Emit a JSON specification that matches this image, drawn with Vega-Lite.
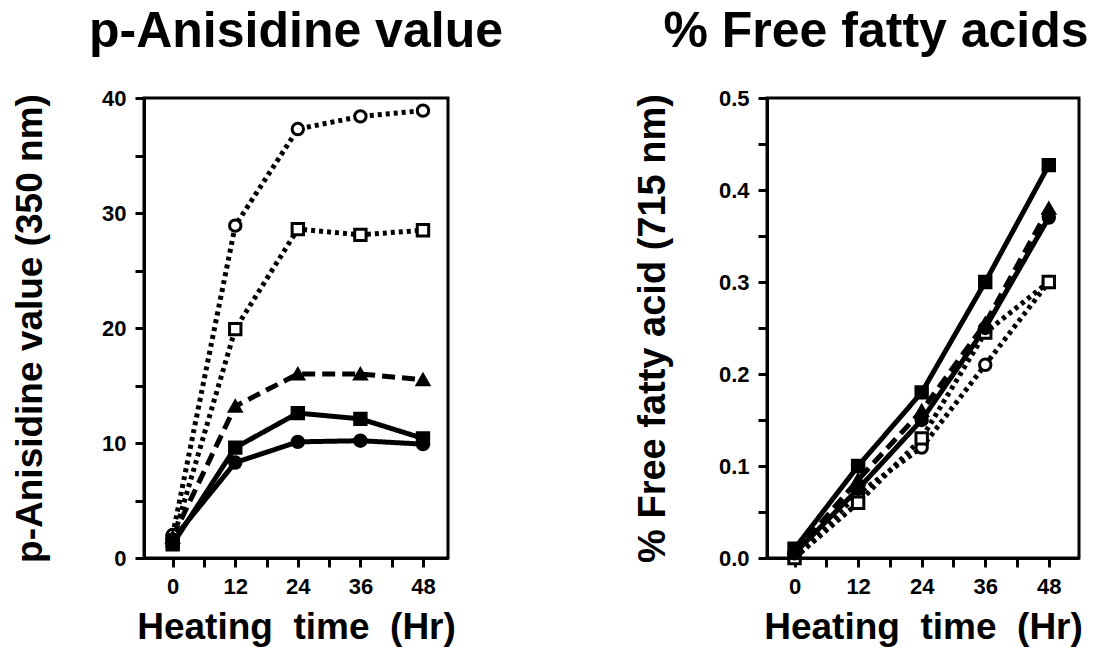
{
  "$schema": "https://vega.github.io/schema/vega-lite/v6.json",
  "background": "white",
  "padding": {"left": 10, "top": 5, "right": 5, "bottom": 5},
  "bounds": "flush",
  "spacing": 319,
  "config": {
    "font": "Liberation Sans",
    "view": {"stroke": "black", "strokeWidth": 3},
    "axis": {"domainColor": "black", "domainWidth": 3, "tickColor": "black", "tickWidth": 3, "tickSize": 9, "labelFont": "Liberation Sans", "labelFontWeight": "bold", "labelFontSize": 22, "labelColor": "black", "titleFont": "Liberation Sans", "titleFontWeight": "bold", "titleColor": "black", "grid": false, "labelPadding": 9},
    "title": {"fontSize": 50, "fontWeight": "bold", "color": "black", "font": "Liberation Sans", "offset": 30}
  },
  "datasets": {
    "pav": [
      {"s": "A", "hr": 0, "v": 2.0}, {"s": "A", "hr": 12, "v": 28.9}, {"s": "A", "hr": 24, "v": 37.3}, {"s": "A", "hr": 36, "v": 38.4}, {"s": "A", "hr": 48, "v": 38.9},
      {"s": "B", "hr": 0, "v": 1.5}, {"s": "B", "hr": 12, "v": 19.9}, {"s": "B", "hr": 24, "v": 28.6}, {"s": "B", "hr": 36, "v": 28.1}, {"s": "B", "hr": 48, "v": 28.5},
      {"s": "C", "hr": 0, "v": 1.8}, {"s": "C", "hr": 12, "v": 13.2}, {"s": "C", "hr": 24, "v": 16.0}, {"s": "C", "hr": 36, "v": 16.0}, {"s": "C", "hr": 48, "v": 15.5},
      {"s": "D", "hr": 0, "v": 1.2}, {"s": "D", "hr": 12, "v": 9.6}, {"s": "D", "hr": 24, "v": 12.6}, {"s": "D", "hr": 36, "v": 12.1}, {"s": "D", "hr": 48, "v": 10.4},
      {"s": "E", "hr": 0, "v": 1.6}, {"s": "E", "hr": 12, "v": 8.3}, {"s": "E", "hr": 24, "v": 10.1}, {"s": "E", "hr": 36, "v": 10.2}, {"s": "E", "hr": 48, "v": 9.9}
    ],
    "ffa": [
      {"s": "A", "hr": 0, "v": 0.0}, {"s": "A", "hr": 12, "v": 0.07}, {"s": "A", "hr": 24, "v": 0.12}, {"s": "A", "hr": 36, "v": 0.21}, {"s": "A", "hr": 48, "v": 0.30},
      {"s": "B", "hr": 0, "v": 0.0}, {"s": "B", "hr": 12, "v": 0.06}, {"s": "B", "hr": 24, "v": 0.13}, {"s": "B", "hr": 36, "v": 0.245}, {"s": "B", "hr": 48, "v": 0.30},
      {"s": "C", "hr": 0, "v": 0.005}, {"s": "C", "hr": 12, "v": 0.085}, {"s": "C", "hr": 24, "v": 0.16}, {"s": "C", "hr": 36, "v": 0.255}, {"s": "C", "hr": 48, "v": 0.38},
      {"s": "D", "hr": 0, "v": 0.01}, {"s": "D", "hr": 12, "v": 0.10}, {"s": "D", "hr": 24, "v": 0.18}, {"s": "D", "hr": 36, "v": 0.30}, {"s": "D", "hr": 48, "v": 0.427},
      {"s": "E", "hr": 0, "v": 0.005}, {"s": "E", "hr": 12, "v": 0.075}, {"s": "E", "hr": 24, "v": 0.15}, {"s": "E", "hr": 36, "v": 0.25}, {"s": "E", "hr": 48, "v": 0.37}
    ]
  },
  "hconcat": [
    {
      "width": 304,
      "height": 460,
      "title": {"text": "p-Anisidine value"},
      "data": {"name": "pav"},
      "encoding": {
        "x": {"field": "hr", "type": "quantitative", "scale": {"domain": [-5.5, 52.8], "nice": false, "zero": false},
          "axis": {"values": [0, 6, 12, 18, 24, 30, 36, 42, 48], "labelExpr": "datum.value % 12 == 0 ? datum.label : ''", "title": "Heating\u00a0 time\u00a0 (Hr)", "titleFontSize": 37, "titlePadding": 12}},
        "y": {"field": "v", "type": "quantitative", "scale": {"domain": [0, 40], "nice": false},
          "axis": {"values": [0, 5, 10, 15, 20, 25, 30, 35, 40], "labelExpr": "datum.value % 10 == 0 ? datum.label : ''", "title": "p-Anisidine value (350 nm)", "titleFontSize": 37, "titlePadding": 52}}
      },
      "layer": [
        {
          "mark": {"type": "line", "color": "black", "strokeWidth": 5, "strokeCap": "butt"},
          "encoding": {
            "strokeDash": {"field": "s", "type": "nominal", "scale": {"domain": ["A", "B", "C", "D", "E"], "range": [[4, 4], [4, 4], [13, 7], [1, 0], [1, 0]]}, "legend": null}
          }
        },
        {
          "mark": {"type": "point", "filled": true, "stroke": "black", "strokeWidth": 3, "opacity": 1, "size": 130},
          "encoding": {
            "shape": {"field": "s", "type": "nominal", "scale": {"domain": ["A", "B", "C", "D", "E"], "range": ["circle", "square", "triangle-up", "square", "circle"]}, "legend": null},
            "fill": {"field": "s", "type": "nominal", "scale": {"domain": ["A", "B", "C", "D", "E"], "range": ["white", "white", "black", "black", "black"]}, "legend": null}
          }
        }
      ]
    },
    {
      "width": 312,
      "height": 460,
      "title": {"text": "% Free fatty acids", "dx": -47},
      "data": {"name": "ffa"},
      "encoding": {
        "x": {"field": "hr", "type": "quantitative", "scale": {"domain": [-5.2, 53.7], "nice": false, "zero": false},
          "axis": {"values": [0, 6, 12, 18, 24, 30, 36, 42, 48], "labelExpr": "datum.value % 12 == 0 ? datum.label : ''", "title": "Heating\u00a0 time\u00a0 (Hr)", "titleFontSize": 37, "titlePadding": 12}},
        "y": {"field": "v", "type": "quantitative", "scale": {"domain": [0, 0.5], "nice": false},
          "axis": {"values": [0, 0.05, 0.1, 0.15, 0.2, 0.25, 0.3, 0.35, 0.4, 0.45, 0.5], "labelExpr": "(round(datum.value * 100) % 10 == 0) ? format(datum.value, '.1f') : ''", "title": "% Free fatty acid (715 nm)", "titleFontSize": 38, "titlePadding": 46}}
      },
      "layer": [
        {
          "mark": {"type": "line", "color": "black", "strokeWidth": 5, "strokeCap": "butt"},
          "encoding": {
            "strokeDash": {"field": "s", "type": "nominal", "scale": {"domain": ["A", "B", "C", "D", "E"], "range": [[4, 4], [4, 4], [13, 7], [1, 0], [1, 0]]}, "legend": null}
          }
        },
        {
          "mark": {"type": "point", "filled": true, "stroke": "black", "strokeWidth": 3, "opacity": 1, "size": 130},
          "encoding": {
            "shape": {"field": "s", "type": "nominal", "scale": {"domain": ["A", "B", "C", "D", "E"], "range": ["circle", "square", "triangle-up", "square", "circle"]}, "legend": null},
            "fill": {"field": "s", "type": "nominal", "scale": {"domain": ["A", "B", "C", "D", "E"], "range": ["white", "white", "black", "black", "black"]}, "legend": null}
          }
        }
      ]
    }
  ]
}
